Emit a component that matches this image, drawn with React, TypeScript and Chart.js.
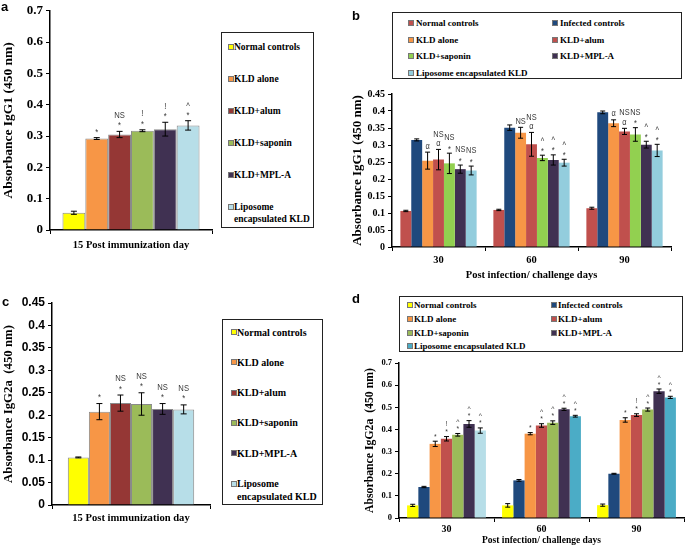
import React, { useEffect, useRef } from 'react';
import { Chart, registerables } from 'chart.js';

Chart.register(...registerables);

const SERIF = "'Liberation Serif', 'Times New Roman', serif";
const SANS = "'Liberation Sans', Arial, sans-serif";

// ---------- Panel a: IgG1, day 15 post immunization ----------
const immunGroups = ['Normal controls', 'KLD alone', 'KLD+alum', 'KLD+saponin', 'KLD+MPL-A', 'Liposome encapsulated KLD'];
const immunColorsA = ['#FFFF00', '#F79646', '#953735', '#9BBB59', '#403152', '#B7DEE8'];
const day15Category = ['15'];
const igg1Day15 = [0.055, 0.292, 0.305, 0.317, 0.322, 0.334];
const igg1Day15Err = [0.005, 0.003, 0.010, 0.003, 0.022, 0.015];
const igg1Day15Marks = [[], ['*'], ['*', 'NS'], ['*', '!'], ['*', '!'], ['*', '^']];

// ---------- Panel c: IgG2a, day 15 post immunization ----------
const immunColorsC = ['#FFFF00', '#F79646', '#953735', '#9BBB59', '#403152', '#B7DEE8'];
const igg2aDay15 = [0.106, 0.208, 0.227, 0.225, 0.214, 0.213];
const igg2aDay15Err = [0.001, 0.018, 0.018, 0.025, 0.012, 0.010];
const igg2aDay15Marks = [[], ['*'], ['*', 'NS'], ['*', 'NS'], ['*', 'NS'], ['*', 'NS']];

// ---------- Panels b & d: post challenge ----------
const challengeDays = ['30', '60', '90'];
const challengeGroups = ['Normal controls', 'Infected controls', 'KLD alone', 'KLD+alum', 'KLD+saponin', 'KLD+MPL-A', 'Liposome encapsulated KLD'];

const colorsB = ['#C0504D', '#1F497D', '#F79646', '#C0504D', '#92D050', '#403152', '#93CDDD'];
const igg1Challenge = [
  [0.106, 0.109, 0.114],
  [0.315, 0.351, 0.396],
  [0.254, 0.336, 0.364],
  [0.257, 0.302, 0.340],
  [0.246, 0.262, 0.331],
  [0.229, 0.256, 0.301],
  [0.225, 0.248, 0.284],
];
const igg1ChallengeErr = [
  [0.002, 0.002, 0.003],
  [0.003, 0.008, 0.004],
  [0.025, 0.016, 0.010],
  [0.030, 0.035, 0.009],
  [0.030, 0.008, 0.020],
  [0.012, 0.015, 0.010],
  [0.013, 0.010, 0.018],
];
const igg1ChallengeMarks = [
  [[], [], []],
  [[], [], []],
  [['α'], ['NS'], ['α']],
  [['α', 'NS'], ['α', 'NS'], ['α', 'NS']],
  [['*', 'NS'], ['*', '^'], ['*', 'NS']],
  [['*', 'NS'], ['*', '^'], ['*', '^']],
  [['*', 'NS'], ['*', '^'], ['*', '^']],
];

const colorsD = ['#FFFF00', '#1F497D', '#F79646', '#C0504D', '#9BBB59', '#403152', '#4BACC6'];
const lipoBarColorsD = ['#B7DEE8', '#4BACC6', '#4BACC6'];
const igg2aChallenge = [
  [0.057, 0.057, 0.058],
  [0.140, 0.170, 0.200],
  [0.335, 0.381, 0.443],
  [0.358, 0.418, 0.465],
  [0.376, 0.431, 0.490],
  [0.425, 0.491, 0.573],
  [0.395, 0.460, 0.545],
];
const igg2aChallengeErr = [
  [0.005, 0.008, 0.005],
  [0.003, 0.004, 0.002],
  [0.012, 0.005, 0.010],
  [0.010, 0.008, 0.006],
  [0.006, 0.008, 0.007],
  [0.015, 0.005, 0.010],
  [0.012, 0.004, 0.005],
];
const igg2aChallengeMarks = [
  [[], [], []],
  [[], [], []],
  [['*'], ['*'], ['*']],
  [['*', '!'], ['*', '^'], ['*', '!']],
  [['*', '^'], ['*', '^'], ['*', '^']],
  [['*', '^'], ['*', '^'], ['*', '^']],
  [['*', '^'], ['*', '^'], ['*', '^']],
];

const fmt = (v: number) => String(Math.round(v * 100) / 100);

const errorBarPlugin = {
  id: 'errbars',
  afterDatasetsDraw(chart: any, _args: any, opts: any) {
    const { ctx } = chart;
    const y = chart.scales.y;
    ctx.save();
    chart.data.datasets.forEach((ds: any, di: number) => {
      const meta = chart.getDatasetMeta(di);
      meta.data.forEach((bar: any, i: number) => {
        const v = ds.data[i];
        const e = ds.errors ? ds.errors[i] : 0;
        const yt = y.getPixelForValue(v + e);
        const yb = y.getPixelForValue(v - e);
        const x = bar.x;
        const c = opts.cap / 2;
        ctx.strokeStyle = '#000';
        ctx.lineWidth = 1;
        ctx.beginPath();
        ctx.moveTo(x, yt); ctx.lineTo(x, yb);
        ctx.moveTo(x - c, yt); ctx.lineTo(x + c, yt);
        ctx.moveTo(x - c, yb); ctx.lineTo(x + c, yb);
        ctx.stroke();
        const marks: string[] = ds.marks ? ds.marks[i] : [];
        ctx.fillStyle = '#3a3a3a';
        ctx.font = opts.font;
        ctx.textAlign = 'center';
        ctx.textBaseline = 'middle';
        marks.forEach((t: string, k: number) => {
          const adj = t === '*' || t === '^' ? 1.5 : (t === 'α' ? -0.5 : 0);
          const ty = yt - opts.gap - k * opts.step + adj;
          ctx.save();
          ctx.translate(x, ty);
          ctx.scale(opts.sx, 1);
          ctx.fillText(t, 0, 0);
          ctx.restore();
        });
      });
    });
    ctx.restore();
  },
};

type Spec = {
  w: number; h: number;
  area: { left: number; top: number; right: number; bottom: number };
  yMax: number; yStep: number; yTickFont: any;
  yTitle: string; yTitleFont: any; yTitleCenter: number;
  xTitle: string; xTitleFont: any; xTitleCenter: number;
  xTicks: boolean; xTickFont?: any; xTickPad?: number;
  catPct: number;
  err: { cap: number; font: string; gap: number; step: number; sx: number };
};

function barOptions(s: Spec): any {
  const yLH = s.yTitleFont.size * 1.2;
  const xLH = s.xTitleFont.size * 1.2;
  return {
    responsive: false,
    animation: false,
    events: [],
    layout: { padding: { left: 0, top: s.area.top, right: s.w - s.area.right, bottom: 0 } },
    plugins: { legend: { display: false }, tooltip: { enabled: false }, errbars: s.err },
    datasets: { bar: { categoryPercentage: s.catPct, barPercentage: 1 } },
    scales: {
      x: {
        grid: { display: true, drawOnChartArea: false, drawTicks: true, tickLength: 4, color: '#000', offset: true },
        border: { display: true, color: '#000', width: 1.5 },
        ticks: { display: s.xTicks, font: s.xTickFont, color: '#000', padding: s.xTickPad ?? 3 },
        title: {
          display: true, text: s.xTitle, font: s.xTitleFont, color: '#000',
          padding: { top: 0, bottom: s.h - s.xTitleCenter - xLH / 2 },
        },
        afterFit: (sc: any) => { sc.height = s.h - s.area.bottom; },
      },
      y: {
        min: 0,
        max: s.yMax,
        grid: { display: true, drawOnChartArea: false, drawTicks: true, tickLength: 4, color: '#000' },
        border: { display: true, color: '#000', width: 1.5 },
        ticks: { stepSize: s.yStep, font: s.yTickFont, color: '#000', padding: 3, callback: (v: any) => fmt(Number(v)) },
        title: {
          display: true, text: s.yTitle, font: s.yTitleFont, color: '#000',
          padding: { top: s.yTitleCenter - yLH / 2, bottom: 0 },
        },
        afterFit: (sc: any) => { sc.width = s.area.left; },
      },
    },
  };
}

function BarPanel({ box, build }: { box: { left: number; top: number; width: number; height: number }; build: () => any }) {
  const ref = useRef<HTMLCanvasElement>(null);
  useEffect(() => {
    const chart = new Chart(ref.current as HTMLCanvasElement, build());
    return () => chart.destroy();
  }, []);
  return (
    <canvas
      ref={ref}
      width={box.width}
      height={box.height}
      style={{ position: 'absolute', left: box.left, top: box.top, width: box.width, height: box.height }}
    />
  );
}

type LegendItem = { lines: string[]; color: string };

function LegendBox({ box, items, pos, font, sq, textDx, lineH }: {
  box: { left: number; top: number; width: number; height: number };
  items: LegendItem[];
  pos: (i: number) => { x: number; y: number };
  font: number; sq: number; textDx: number; lineH: number;
}) {
  return (
    <div style={{
      position: 'absolute', left: box.left, top: box.top, width: box.width, height: box.height,
      border: '1.5px solid #222', boxSizing: 'border-box', background: '#fff',
    }}>
      {items.map((it, i) => {
        const p = pos(i);
        return (
          <React.Fragment key={i}>
            <div style={{
              position: 'absolute', left: p.x, top: p.y - sq / 2, width: sq, height: sq,
              background: it.color, border: '0.5px solid #777', boxSizing: 'border-box',
            }} />
            {it.lines.map((ln, k) => (
              <div key={k} style={{
                position: 'absolute', left: p.x + textDx, top: p.y - lineH / 2 + k * lineH,
                height: lineH, lineHeight: lineH + 'px', whiteSpace: 'nowrap',
                fontFamily: SERIF, fontWeight: 'bold', fontSize: font, color: '#000',
              }}>{ln}</div>
            ))}
          </React.Fragment>
        );
      })}
    </div>
  );
}

function PanelLetter({ text, left, top }: { text: string; left: number; top: number }) {
  return (
    <div style={{ position: 'absolute', left, top, fontFamily: SANS, fontWeight: 'bold', fontSize: 13, lineHeight: '13px', color: '#000' }}>{text}</div>
  );
}

function buildDay15(values: number[], errs: number[], marks: string[][], colors: string[], spec: Spec) {
  return () => ({
    type: 'bar',
    data: {
      labels: day15Category,
      datasets: immunGroups.map((g, i) => ({
        label: g,
        data: [values[i]],
        errors: [errs[i]],
        marks: [marks[i]],
        backgroundColor: colors[i],
        borderColor: '#8a8a8a',
        borderWidth: 1,
      })),
    },
    options: barOptions(spec),
    plugins: [errorBarPlugin],
  });
}

function buildChallenge(values: number[][], errs: number[][], marks: string[][][], colors: (string | string[])[], spec: Spec) {
  return () => ({
    type: 'bar',
    data: {
      labels: challengeDays,
      datasets: challengeGroups.map((g, i) => ({
        label: g,
        data: values[i],
        errors: errs[i],
        marks: marks[i],
        backgroundColor: colors[i],
        borderWidth: 0,
      })),
    },
    options: barOptions(spec),
    plugins: [errorBarPlugin],
  });
}

const specA: Spec = {
  w: 220, h: 255,
  area: { left: 50, top: 7, right: 212, bottom: 230 },
  yMax: 0.7, yStep: 0.1, yTickFont: { family: SERIF, weight: 'bold', size: 13 },
  yTitle: 'Absorbance IgG1 (450 nm)', yTitleFont: { family: SERIF, weight: 'bold', size: 13.5 }, yTitleCenter: 9,
  xTitle: '15 Post immunization day', xTitleFont: { family: SERIF, weight: 'bold', size: 10.5 }, xTitleCenter: 245,
  xTicks: false, catPct: 0.846,
  err: { cap: 6, font: `9px ${SANS}`, gap: 7, step: 9, sx: 0.85 },
};

const specB: Spec = {
  w: 345, h: 200,
  area: { left: 52, top: 6, right: 331, bottom: 162 },
  yMax: 0.45, yStep: 0.05, yTickFont: { family: SERIF, weight: 'bold', size: 10 },
  yTitle: 'Absorbance IgG1 (450 nm)', yTitleFont: { family: SERIF, weight: 'bold', size: 13 }, yTitleCenter: 18,
  xTitle: 'Post infection/ challenge days', xTitleFont: { family: SERIF, weight: 'bold', size: 10.5 }, xTitleCenter: 190,
  xTicks: true, xTickFont: { family: SERIF, weight: 'bold', size: 10.5 }, xTickPad: 3,
  catPct: 0.82,
  err: { cap: 5, font: `9.5px ${SANS}`, gap: 5.5, step: 10, sx: 0.78 },
};

const specC: Spec = {
  w: 220, h: 240,
  area: { left: 52, top: 13, right: 210, bottom: 215 },
  yMax: 0.45, yStep: 0.05, yTickFont: { family: SANS, weight: 'bold', size: 12 },
  yTitle: 'Absorbance IgG2a  (450 nm)', yTitleFont: { family: SERIF, weight: 'bold', size: 12.8 }, yTitleCenter: 9,
  xTitle: '15 Post immunization day', xTitleFont: { family: SERIF, weight: 'bold', size: 10.6 }, xTitleCenter: 228,
  xTicks: false, catPct: 0.8,
  err: { cap: 6, font: `9px ${SANS}`, gap: 7.5, step: 9, sx: 0.85 },
};

const specD: Spec = {
  w: 345, h: 194,
  area: { left: 59, top: 8, right: 344, bottom: 163 },
  yMax: 0.7, yStep: 0.1, yTickFont: { family: SERIF, weight: 'bold', size: 8.5 },
  yTitle: 'Absorbance IgG2a  (450 nm)', yTitleFont: { family: SERIF, weight: 'bold', size: 11.75 }, yTitleCenter: 30,
  xTitle: 'Post infection/ challenge days', xTitleFont: { family: SERIF, weight: 'bold', size: 9.5 }, xTitleCenter: 186,
  xTicks: true, xTickFont: { family: SERIF, weight: 'bold', size: 10 }, xTickPad: 1.5,
  catPct: 0.83,
  err: { cap: 5, font: `7.5px ${SANS}`, gap: 6, step: 7, sx: 0.9 },
};

const legendLines = (g: string, split: boolean) =>
  split && g === 'Liposome encapsulated KLD' ? ['Liposome', 'encapsulated KLD'] : [g];

export default function App() {
  const legendA = immunGroups.map((g, i) => ({ lines: legendLines(g, true), color: immunColorsA[i] }));
  const legendC = immunGroups.map((g, i) => ({ lines: legendLines(g, true), color: immunColorsC[i] }));
  const legendB = challengeGroups.map((g, i) => ({ lines: [g], color: colorsB[i] }));
  const legendD = challengeGroups.map((g, i) => ({ lines: [g], color: colorsD[i] }));

  return (
    <div style={{ position: 'absolute', left: 0, top: 0, width: 685, height: 549, background: '#fff', overflow: 'hidden' }}>
      <BarPanel box={{ left: 0, top: 0, width: specA.w, height: specA.h }}
        build={buildDay15(igg1Day15, igg1Day15Err, igg1Day15Marks, immunColorsA, specA)} />
      <BarPanel box={{ left: 340, top: 85, width: specB.w, height: specB.h }}
        build={buildChallenge(igg1Challenge, igg1ChallengeErr, igg1ChallengeMarks, colorsB, specB)} />
      <BarPanel box={{ left: 0, top: 290, width: specC.w, height: specC.h }}
        build={buildDay15(igg2aDay15, igg2aDay15Err, igg2aDay15Marks, immunColorsC, specC)} />
      <BarPanel box={{ left: 340, top: 355, width: specD.w, height: specD.h }}
        build={buildChallenge(igg2aChallenge, igg2aChallengeErr, igg2aChallengeMarks,
          [...colorsD.slice(0, 6), lipoBarColorsD], specD)} />

      <LegendBox box={{ left: 221, top: 32, width: 93, height: 196 }} items={legendA}
        pos={(i) => ({ x: 6, y: 14 + i * 32 })} font={9.5} sq={6} textDx={6} lineH={12} />
      <LegendBox box={{ left: 222, top: 319, width: 101, height: 186 }} items={legendC}
        pos={(i) => ({ x: 8, y: 12 + i * 30.3 })} font={10} sq={6} textDx={6} lineH={13} />
      <LegendBox box={{ left: 392, top: 12, width: 290, height: 67 }} items={legendB}
        pos={(i) => ({ x: i % 2 === 0 ? 15 : 159, y: 10 + Math.floor(i / 2) * 16.7 })} font={9} sq={6} textDx={8} lineH={12} />
      <LegendBox box={{ left: 399, top: 296, width: 284, height: 56 }} items={legendD}
        pos={(i) => ({ x: i % 2 === 0 ? 7 : 151, y: 8 + Math.floor(i / 2) * 13.8 })} font={9} sq={6} textDx={7} lineH={12} />

      <PanelLetter text="a" left={1} top={0} />
      <PanelLetter text="b" left={352} top={9} />
      <PanelLetter text="c" left={2} top={295} />
      <PanelLetter text="d" left={352} top={292} />
    </div>
  );
}
